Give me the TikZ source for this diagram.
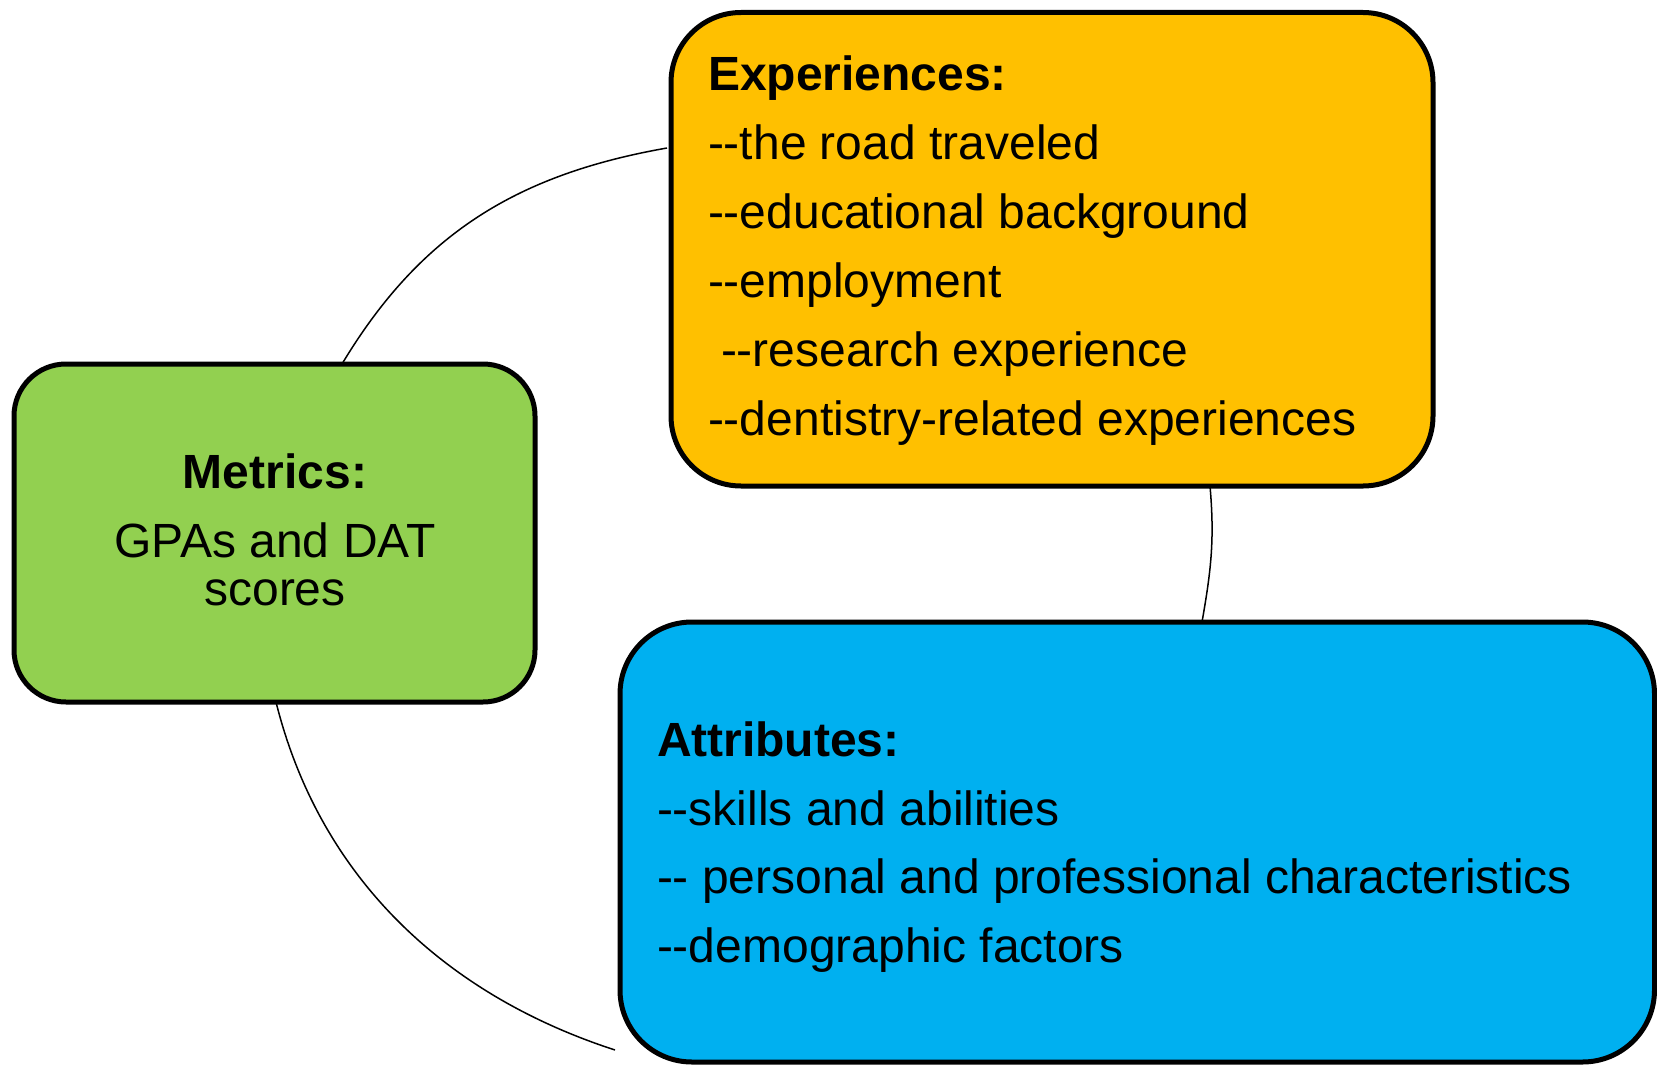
\documentclass[tikz,border=0pt]{standalone}
\usepackage{fontspec}
\setmainfont{Liberation Sans}
\newcommand\dd{-{}-}
\definecolor{expY}{HTML}{FFC000}
\definecolor{metG}{HTML}{92D050}
\definecolor{attB}{HTML}{00B0F0}
\tikzset{
  box/.style={draw=black, line width=5pt, inner sep=0pt, outer sep=0pt},
  txt/.style={inner sep=0pt, outer sep=0pt, font=\fontsize{48}{56}\selectfont},
  link/.style={draw=black, line width=1.5pt}
}
\begin{document}
\begin{tikzpicture}[x=1pt,y=-1pt]
\useasboundingbox (0,0) rectangle (1657,1065);
% boxes
\node[box, fill=expY, minimum width=762pt, minimum height=473.5pt, rounded corners=70pt] (exp) at (1052,249.25) {};
\node[box, fill=metG, minimum width=521pt, minimum height=338pt, rounded corners=52pt] (met) at (274.5,533) {};
\node[box, fill=attB, minimum width=1034.5pt, minimum height=440pt, rounded corners=72pt] (att) at (1137.25,842) {};
% connectors
\draw[link] ([xshift=328pt]met.north west) to[out=59,in=190] ([xshift=-4pt,yshift=-135.5pt]exp.north west);
\draw[link] ([xshift=539pt]exp.south west) to[out=-85,in=80] ([xshift=582pt]att.north west);
\draw[link] ([xshift=262pt]met.south west) to[out=-76,in=162,looseness=0.95] ([xshift=-5pt,yshift=-428pt]att.north west);
% experiences text
\node[txt, anchor=base west] (e0) at (708,91) {\bfseries Experiences:};
\node[txt, anchor=base west] (e1) at (708,159) {\dd the road traveled};
\node[txt, anchor=base west] (e2) at (708,228) {\dd educational background};
\node[txt, anchor=base west] (e3) at (708,297) {\dd employment};
\node[txt, anchor=base west] (e4) at (708,366) {\hspace*{13pt}\dd research experience};
\node[txt, anchor=base west] (e5) at (708,435) {\dd dentistry-related experiences};
% metrics text
\node[txt, anchor=base] (m0) at (275,488) {\bfseries Metrics:};
\node[txt, anchor=base] (m1) at (275,557) {GPAs and DAT};
\node[txt, anchor=base] (m2) at (275,605) {scores};
% attributes text
\node[txt, anchor=base west] (a0) at (657,756) {\bfseries Attributes:};
\node[txt, anchor=base west] (a1) at (657,825) {\dd skills and abilities};
\node[txt, anchor=base west] (a2) at (657,893) {\dd{} personal and professional characteristics};
\node[txt, anchor=base west] (a3) at (657,962) {\dd demographic factors};
\end{tikzpicture}
\end{document}
